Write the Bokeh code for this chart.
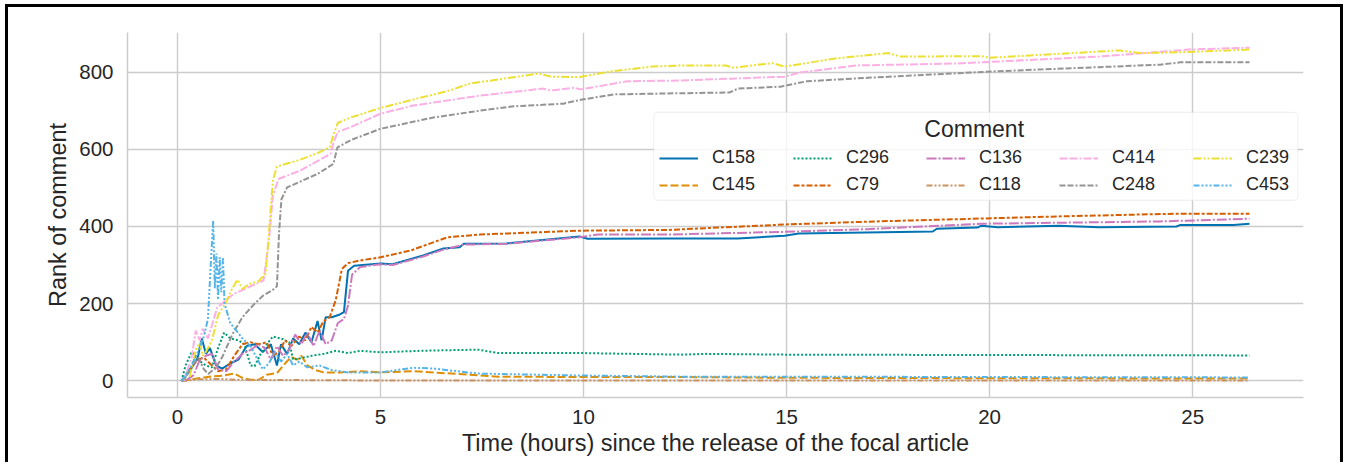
from bokeh.plotting import figure
from bokeh.models import Range1d, FixedTicker, Legend, LegendItem, Label, BoxAnnotation
from bokeh.embed import file_html
from bokeh.resources import INLINE

# ---------------- data ----------------
c158_t = [0.1, 0.3, 0.5, 0.6, 0.7, 0.8, 0.95, 1.1, 1.3, 1.5, 1.7, 1.9, 2.1, 2.3, 2.45, 2.55, 2.7, 2.85, 3.0, 3.15,
          3.3, 3.45, 3.55, 3.65, 3.8, 4.0, 4.1, 4.2, 4.35, 5.0, 5.3, 6.05, 6.55, 6.95, 7.05, 8.1, 9.9, 10.1, 12.1, 13.8,
          14.95, 15.3, 18.6, 18.7, 19.7, 19.8, 20.2, 21.7, 22.7, 24.6, 24.7, 26.0, 26.4]
c158_r = [0, 25, 60, 110, 70, 85, 40, 32, 45, 55, 90, 95, 75, 95, 40, 95, 70, 110, 95, 125,
          100, 155, 105, 165, 165, 172, 178, 285, 298, 304, 302, 325, 343, 346, 355, 356, 374, 368, 369, 369,
          376, 382, 387, 394, 397, 402, 398, 402, 398, 400, 404, 404, 407]

c145_t = [0.1, 0.4, 0.65, 0.9, 1.15, 1.4, 1.6, 1.8, 2.0, 2.2, 2.45, 2.65, 2.8, 2.95, 3.05, 3.2, 3.4, 3.6, 4.0, 4.5,
          5.0, 5.8, 6.6, 7.9, 9.9, 12.4, 15.0, 20.0, 26.4]
c145_r = [0, 5, 9, 12, 14, 19, 8, 3, 3, 16, 20, 45, 62, 55, 65, 40, 28, 22, 22, 25,
          22, 25, 20, 11, 10, 10, 8, 7, 6]

c296_t = [0.1, 0.2, 0.35, 0.5, 0.7, 0.85, 1.0, 1.15, 1.3, 1.5, 1.65, 1.8, 1.9, 2.05, 2.2, 2.35, 2.6, 2.75, 2.85, 3.0,
          3.3, 3.6, 3.9, 4.2, 4.5, 5.0, 6.0, 7.4, 7.9, 10.0, 12.4, 13.0, 15.0, 20.0, 26.4]
c296_r = [0, 40, 75, 55, 40, 35, 85, 125, 110, 105, 95, 40, 38, 70, 95, 115, 108, 100, 55, 58,
          65, 70, 78, 72, 78, 74, 78, 81, 72, 72, 68, 70, 68, 67, 66]

c79_t = [0.1, 0.3, 0.5, 0.65, 0.8, 1.0, 1.2, 1.4, 1.6, 1.8, 2.0, 2.2, 2.35, 2.5, 2.65, 2.8, 3.0, 3.15, 3.3, 3.45,
         3.6, 3.75, 3.9, 4.05, 4.2, 4.5, 5.0, 5.75, 6.65, 7.45, 9.9, 12.1, 14.95, 17.2, 21.7, 24.6, 26.4]
c79_r = [0, 30, 55, 60, 45, 25, 30, 65, 95, 100, 95, 100, 65, 75, 105, 90, 115, 105, 140, 125,
         155, 165, 210, 290, 305, 312, 320, 338, 372, 379, 389, 391, 405, 413, 426, 433, 433]

c136_t = [0.2, 0.4, 0.55, 0.7, 0.85, 1.0, 1.2, 1.4, 1.6, 1.8, 2.0, 2.15, 2.3, 2.45, 2.6, 2.75, 2.9, 3.05, 3.2, 3.35,
          3.5, 3.65, 3.8, 3.95, 4.1, 4.2, 4.3, 4.5, 5.0, 5.3, 6.05, 6.55, 7.05, 8.1, 9.9, 10.35, 12.1, 14.95, 17.0, 19.8,
          24.2, 26.4]
c136_r = [0, 15, 55, 65, 70, 30, 25, 50, 70, 80, 95, 85, 55, 90, 65, 80, 120, 95, 125, 90,
          130, 95, 105, 150, 160, 195, 275, 295, 302, 300, 322, 340, 353, 355, 372, 379, 379, 386, 393, 407,
          413, 420]

c118_t = [0.1, 0.5, 1.0, 1.5, 2.0, 3.0, 5.0, 10.0, 26.4]
c118_r = [0, 4, 5, 3, 2, 2, 1, 1, 1]

c414_t = [0.15, 0.35, 0.45, 0.55, 0.62, 0.75, 0.98, 1.38, 2.12, 2.25, 2.35, 2.49, 3.03, 3.77, 3.85, 3.95, 4.26, 5.0,
          5.8, 7.46, 9.0, 9.19, 9.75, 9.93, 11.08, 12.4, 14.95, 15.34, 16.7, 19.2, 22.7, 24.9, 26.4]
c414_r = [0, 60, 130, 105, 135, 110, 190, 225, 260, 360, 480, 523, 545, 588, 620, 645, 657, 692,
          713, 739, 757, 752, 759, 755, 776, 778, 788, 799, 817, 822, 840, 858, 863]

c248_t = [0.1, 0.2, 0.35, 0.52, 0.65, 0.76, 0.95, 1.1, 1.35, 1.6, 1.9, 2.1, 2.34, 2.45, 2.5, 2.56, 2.7, 3.45, 3.84,
          3.94, 4.3, 4.68, 5.0, 6.3, 7.46, 8.28, 9.5, 9.93, 10.74, 12.4, 13.6, 13.8, 14.85, 15.5, 17.0, 20.2, 24.2,
          24.7, 26.4]
c248_r = [0, 9, 40, 60, 30, 18, 35, 61, 120, 165, 200, 220, 235, 245, 380, 470, 501, 536, 562,
          605, 625, 640, 653, 682, 700, 711, 718, 728, 742, 745, 747, 757, 762, 776, 785, 802, 819,
          825, 825]

c239_t = [0.3, 0.45, 0.55, 0.62, 0.7, 0.85, 1.0, 1.2, 1.35, 1.48, 1.6, 1.75, 2.0, 2.17, 2.25, 2.35, 2.45, 2.7, 3.0,
          3.45, 3.75, 3.85, 3.95, 4.26, 5.0, 5.9, 6.7, 7.2, 8.9, 9.2, 9.9, 10.7, 11.7, 12.4, 13.5, 13.7, 14.65, 14.95,
          16.2, 17.5, 17.8, 19.8, 20.0, 23.2, 23.7, 24.7, 26.4]
c239_r = [10, 80, 100, 65, 75, 105, 170, 205, 240, 262, 238, 250, 258, 278, 380, 520, 555, 563, 572,
          590, 605, 640, 668, 682, 707, 731, 752, 770, 796, 788, 787, 802, 814, 817, 817, 811, 823, 814,
          835, 849, 840, 841, 837, 856, 849, 851, 858]

c453_t = [0.1, 0.3, 0.5, 0.65, 0.75, 0.82, 0.88, 0.92, 0.96, 1.0, 1.04, 1.08, 1.12, 1.16, 1.3, 1.45, 1.6, 1.8, 1.95,
          2.1, 2.25, 2.4, 2.55, 2.7, 2.85, 3.0, 3.2, 3.5, 3.8, 4.2, 5.0, 5.8, 6.3, 7.4, 9.9, 12.4, 15.0, 20.0, 26.4]
c453_r = [0, 30, 75, 115, 160, 300, 415, 240, 330, 210, 320, 230, 320, 200, 150, 130, 110, 90, 60,
          30, 45, 75, 50, 70, 40, 50, 35, 40, 28, 22, 22, 34, 32, 19, 14, 11, 11, 10, 9]

comments = ["C158", "C145", "C296", "C79", "C136", "C118", "C414", "C248", "C239", "C453"]
x_ticks = [0, 5, 10, 15, 20, 25]
y_ticks = [0, 200, 400, 600, 800]

# ---------------- styles ----------------
series = {
    "C158": (c158_t, c158_r), "C145": (c145_t, c145_r), "C296": (c296_t, c296_r),
    "C79": (c79_t, c79_r), "C136": (c136_t, c136_r), "C118": (c118_t, c118_r),
    "C414": (c414_t, c414_r), "C248": (c248_t, c248_r), "C239": (c239_t, c239_r),
    "C453": (c453_t, c453_r),
}
colors = ["#0173b2", "#de8f05", "#029e73", "#d55e00", "#cc78bc",
          "#ca9161", "#fbafe4", "#949494", "#ece133", "#56b4e9"]
dashes = ["solid", "8 3", "2 2", "6 2 3 2", "10 2 2 2",
          "6 2 2 2 2 2", "8 2 8 2 2 2", "6 2 6 2 2 2", "8 2 2 2 2 2", "6 2 2 2 2 2 2 2"]

FONT = "Liberation Sans"
TXT = "#262626"
GRID = "#cccccc"

p = figure(width=1338, height=458, output_backend="svg", toolbar_location=None,
           x_range=Range1d(-1.23, 27.73), y_range=Range1d(-43.0, 902.3),
           min_border_left=119, min_border_right=43, min_border_top=25, min_border_bottom=68)
p.styles = {"border-left": "3px solid black", "border-right": "3px solid black",
            "border-top": "3px solid black", "margin-left": "5px", "margin-top": "4px"}
p.outline_line_color = None
p.background_fill_color = "white"
p.border_fill_color = "white"

p.xaxis.ticker = FixedTicker(ticks=x_ticks)
p.yaxis.ticker = FixedTicker(ticks=y_ticks)
for ax in (p.xaxis[0], p.yaxis[0]):
    ax.major_tick_in = 0
    ax.major_tick_out = 0
    ax.minor_tick_line_color = None
    ax.major_tick_line_color = None
    ax.axis_line_color = GRID
    ax.axis_line_width = 1.5
    ax.major_label_text_font = FONT
    ax.major_label_text_font_size = "20.5px"
    ax.major_label_text_color = TXT
    ax.axis_label_text_font = FONT
    ax.axis_label_text_font_size = "23.5px"
    ax.axis_label_text_font_style = "normal"
    ax.axis_label_text_color = TXT
p.xaxis.axis_label = "Time (hours) since the release of the focal article"
p.yaxis.axis_label = "Rank of comment"
p.xaxis.major_label_standoff = 12
p.yaxis.major_label_standoff = 14
p.xaxis.axis_label_standoff = 3
p.yaxis.axis_label_standoff = 5

p.xgrid.ticker = FixedTicker(ticks=x_ticks)
p.ygrid.ticker = FixedTicker(ticks=y_ticks)
p.grid.grid_line_color = GRID
p.grid.grid_line_width = 1.4

renderers = {}
for name, col, dash in zip(comments, colors, dashes):
    t, r = series[name]
    renderers[name] = p.line(t, r, line_color=col, line_width=2, line_dash=dash)

# legend frame
p.add_layout(BoxAnnotation(left=11.73, right=27.59, top=695.4, bottom=467.3,
                           fill_color="white", fill_alpha=0.8,
                           line_color="#d0d0d0", line_width=1.2, border_radius=4))

columns = [["C158", "C145"], ["C296", "C79"], ["C136", "C118"], ["C414", "C248"], ["C239", "C453"]]
col_x = [532, 666, 799, 932, 1066]
for names, cx in zip(columns, col_x):
    leg = Legend(items=[LegendItem(label=n, renderers=[renderers[n]]) for n in names],
                 location=(cx, 202), orientation="vertical", padding=0, spacing=6, margin=0,
                 glyph_width=39, glyph_height=20, label_height=20, label_standoff=14,
                 label_text_font=FONT, label_text_font_size="18px", label_text_color=TXT,
                 border_line_alpha=0, background_fill_alpha=0)
    p.add_layout(leg)

p.add_layout(Label(x=19.62, y=653, text="Comment", text_align="center", text_baseline="middle",
                   text_font=FONT, text_font_size="23px", text_color=TXT))

open("out.html", "w").write(file_html(p, INLINE))
